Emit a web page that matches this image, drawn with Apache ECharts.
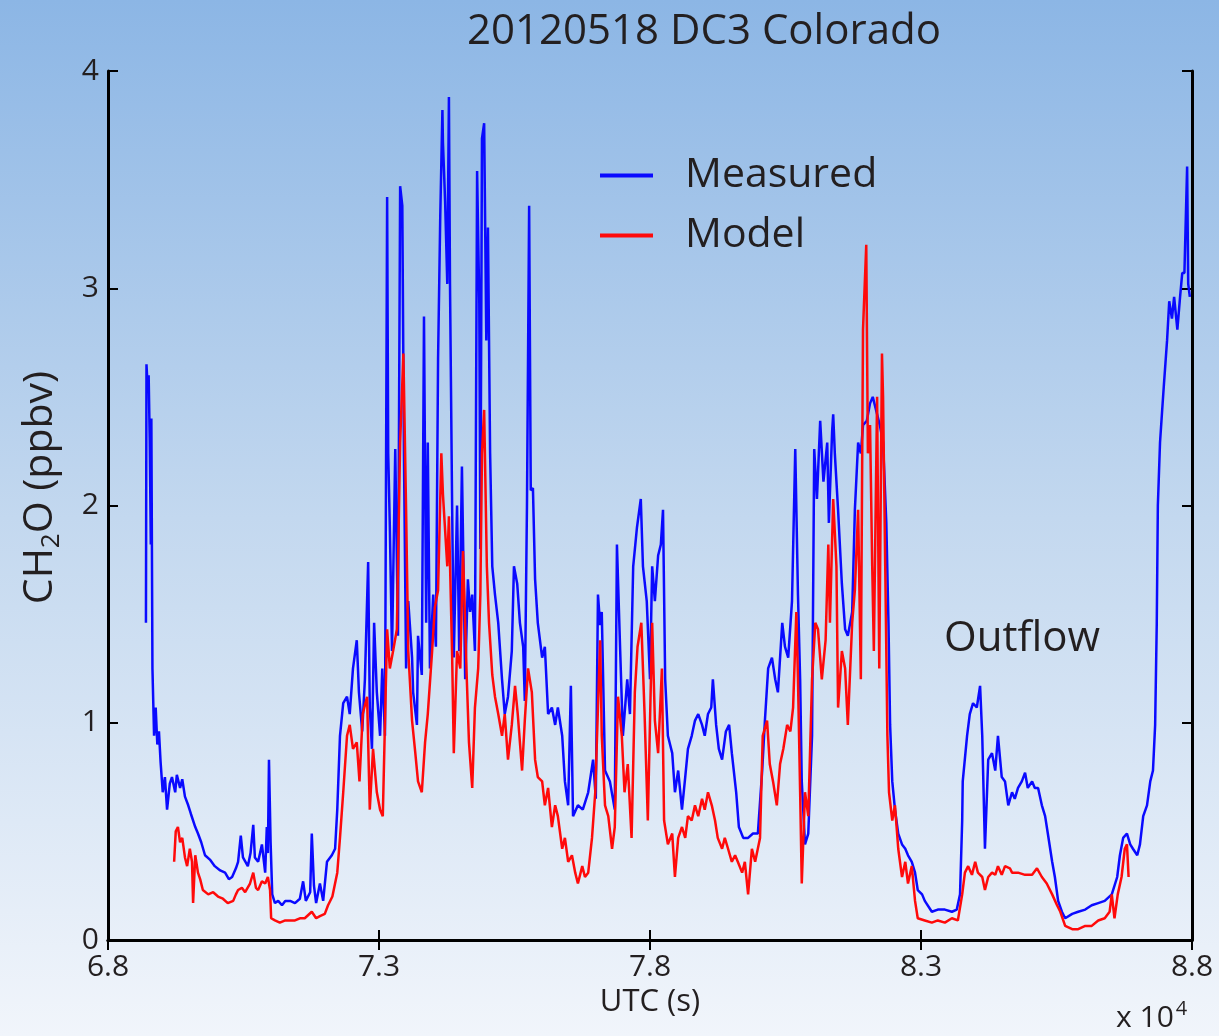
<!DOCTYPE html>
<html>
<head>
<meta charset="utf-8">
<script src="https://cdn.jsdelivr.net/npm/echarts@6/dist/echarts.min.js"></script>
<style>
  html, body { margin: 0; padding: 0; }
  #chart { width: 1219px; height: 1036px; }
</style>
</head>
<body>
<div id="chart"></div>
<script>
// UTC (s) vs CH2O (ppbv)
const xTicks = [68000, 73000, 78000, 83000, 88000]
const yTicks = [0, 1, 2, 3, 4]

const measured = [
  [68700, 1.46], [68710, 2.65], [68730, 2.55], [68750, 2.60], [68770, 2.30], [68790, 1.82], [68800, 2.40], [68820, 1.25], [68850, 0.94],
  [68880, 1.07], [68910, 0.90], [68940, 0.96], [68970, 0.82], [69010, 0.68], [69050, 0.75], [69090, 0.60], [69140, 0.72], [69180, 0.75],
  [69240, 0.68], [69270, 0.76], [69330, 0.70], [69370, 0.74], [69420, 0.66], [69480, 0.62], [69530, 0.58], [69610, 0.52], [69660, 0.49],
  [69720, 0.45], [69790, 0.39], [69880, 0.37], [69970, 0.34], [70070, 0.32], [70160, 0.31], [70230, 0.28], [70290, 0.29], [70360, 0.33],
  [70400, 0.36], [70450, 0.48], [70490, 0.38], [70580, 0.34], [70630, 0.40], [70680, 0.53], [70710, 0.38], [70770, 0.36], [70840, 0.44],
  [70900, 0.31], [70930, 0.52], [70950, 0.40], [70970, 0.83], [71000, 0.45], [71030, 0.21], [71080, 0.17], [71140, 0.18], [71210, 0.16],
  [71270, 0.18], [71360, 0.18], [71450, 0.17], [71540, 0.19], [71600, 0.27], [71650, 0.18], [71730, 0.22], [71760, 0.49], [71800, 0.25],
  [71840, 0.17], [71910, 0.26], [71970, 0.18], [72040, 0.36], [72130, 0.39], [72190, 0.42], [72230, 0.60], [72280, 0.94], [72340, 1.09],
  [72410, 1.12], [72460, 1.04], [72520, 1.25], [72590, 1.38], [72630, 1.14], [72690, 0.96], [72740, 1.20], [72800, 1.74], [72830, 1.07],
  [72870, 0.88], [72910, 1.46], [72960, 1.14], [73020, 0.94], [73060, 1.25], [73110, 0.94], [73150, 3.42], [73170, 2.24], [73200, 1.90],
  [73240, 1.33], [73300, 2.26], [73350, 1.40], [73390, 3.47], [73430, 3.38], [73460, 2.24], [73500, 1.25], [73540, 1.56], [73610, 1.30],
  [73630, 1.14], [73700, 0.99], [73720, 1.40], [73790, 1.22], [73830, 2.87], [73870, 1.46], [73900, 2.29], [73940, 1.25], [74000, 1.59],
  [74050, 1.35], [74090, 2.68], [74130, 3.33], [74170, 3.82], [74180, 3.67], [74220, 3.40], [74260, 3.02], [74270, 3.30], [74290, 3.88],
  [74310, 3.02], [74350, 1.98], [74380, 1.30], [74440, 2.00], [74480, 1.33], [74530, 2.18], [74590, 1.20], [74640, 1.66], [74680, 1.51],
  [74720, 1.59], [74770, 1.33], [74810, 3.54], [74850, 2.94], [74870, 1.80], [74900, 3.69], [74940, 3.76], [74980, 2.76], [75010, 3.28],
  [75050, 2.24], [75090, 1.72], [75140, 1.59], [75200, 1.46], [75270, 1.20], [75320, 1.04], [75380, 1.12], [75450, 1.33], [75490, 1.72],
  [75550, 1.64], [75600, 1.46], [75660, 1.35], [75690, 1.10], [75730, 2.00], [75770, 3.38], [75800, 2.07], [75840, 2.08], [75880, 1.66],
  [75930, 1.46], [76010, 1.30], [76060, 1.35], [76120, 1.04], [76190, 1.07], [76250, 0.99], [76300, 1.07], [76380, 0.94], [76430, 0.73],
  [76490, 0.62], [76540, 1.17], [76580, 0.57], [76670, 0.62], [76760, 0.60], [76860, 0.68], [76950, 0.83], [77000, 0.65], [77040, 1.59],
  [77080, 1.45], [77110, 1.51], [77170, 0.78], [77260, 0.73], [77350, 0.60], [77390, 1.82], [77450, 1.33], [77500, 0.94], [77580, 1.20],
  [77630, 1.04], [77690, 1.72], [77760, 1.90], [77830, 2.03], [77870, 1.72], [77940, 1.56], [78000, 1.20], [78040, 1.72], [78090, 1.56],
  [78150, 1.77], [78200, 1.82], [78240, 1.98], [78280, 1.20], [78330, 0.94], [78410, 0.86], [78460, 0.68], [78520, 0.78], [78590, 0.60],
  [78650, 0.75], [78700, 0.88], [78770, 0.94], [78830, 1.01], [78890, 1.04], [78960, 0.99], [79010, 0.94], [79070, 1.04], [79130, 1.07],
  [79160, 1.20], [79220, 0.99], [79270, 0.88], [79330, 0.83], [79400, 0.96], [79460, 0.99], [79510, 0.86], [79590, 0.68], [79640, 0.52],
  [79720, 0.47], [79810, 0.47], [79900, 0.49], [79990, 0.49], [80070, 0.78], [80120, 1.01], [80180, 1.25], [80250, 1.30], [80310, 1.20],
  [80360, 1.14], [80440, 1.46], [80490, 1.35], [80550, 1.30], [80620, 1.56], [80680, 2.26], [80730, 1.59], [80770, 1.20], [80800, 0.73],
  [80860, 0.44], [80920, 0.49], [80990, 0.94], [81030, 2.26], [81080, 2.03], [81140, 2.39], [81200, 2.11], [81270, 2.29], [81300, 1.92],
  [81360, 2.34], [81380, 2.42], [81410, 2.24], [81470, 1.98], [81540, 1.64], [81600, 1.43], [81650, 1.40], [81730, 1.51], [81780, 1.98],
  [81840, 2.29], [81890, 2.24], [81930, 2.37], [82000, 2.39], [82060, 2.47], [82110, 2.50], [82190, 2.42], [82240, 2.37], [82300, 2.29],
  [82360, 1.92], [82400, 1.46], [82430, 0.99], [82470, 0.73], [82520, 0.60], [82580, 0.49], [82650, 0.44], [82710, 0.42], [82760, 0.39],
  [82830, 0.36], [82890, 0.31], [82940, 0.23], [83020, 0.21], [83070, 0.18], [83200, 0.13], [83310, 0.14], [83440, 0.14], [83570, 0.13],
  [83660, 0.14], [83720, 0.21], [83760, 0.55], [83770, 0.73], [83850, 0.94], [83900, 1.04], [83960, 1.09], [84030, 1.07], [84090, 1.17],
  [84130, 0.94], [84180, 0.42], [84240, 0.83], [84310, 0.86], [84370, 0.78], [84420, 0.94], [84490, 0.75], [84550, 0.73], [84610, 0.62],
  [84680, 0.68], [84730, 0.65], [84790, 0.70], [84860, 0.73], [84920, 0.77], [84970, 0.70], [85050, 0.73], [85100, 0.70], [85160, 0.70],
  [85230, 0.62], [85290, 0.57], [85340, 0.49], [85420, 0.36], [85470, 0.29], [85530, 0.18], [85600, 0.13], [85660, 0.10], [85790, 0.12],
  [85900, 0.13], [86030, 0.14], [86150, 0.16], [86270, 0.17], [86390, 0.18], [86520, 0.21], [86620, 0.29], [86670, 0.39], [86730, 0.47],
  [86800, 0.49], [86860, 0.44], [86910, 0.42], [86990, 0.39], [87040, 0.44], [87100, 0.57], [87170, 0.62], [87230, 0.73], [87280, 0.78],
  [87320, 0.99], [87350, 1.46], [87370, 2.00], [87410, 2.29], [87450, 2.44], [87480, 2.55], [87540, 2.76], [87580, 2.94], [87630, 2.86],
  [87670, 2.96], [87730, 2.81], [87780, 2.96], [87820, 3.07], [87860, 3.07], [87910, 3.56], [87930, 3.02], [87960, 2.96]
]

const model = [
  [69220, 0.36], [69250, 0.50], [69290, 0.52], [69330, 0.45], [69370, 0.47], [69420, 0.38], [69460, 0.34], [69510, 0.42], [69550, 0.36],
  [69570, 0.17], [69610, 0.39], [69660, 0.31], [69700, 0.28], [69750, 0.23], [69850, 0.21], [69940, 0.22], [70030, 0.20], [70120, 0.19],
  [70210, 0.17], [70310, 0.18], [70360, 0.21], [70400, 0.23], [70470, 0.24], [70530, 0.22], [70620, 0.26], [70680, 0.31], [70730, 0.24],
  [70770, 0.23], [70840, 0.27], [70900, 0.26], [70950, 0.29], [70990, 0.23], [71010, 0.10], [71080, 0.09], [71170, 0.08], [71270, 0.09],
  [71360, 0.09], [71450, 0.09], [71540, 0.10], [71630, 0.10], [71760, 0.13], [71840, 0.10], [71910, 0.11], [72000, 0.12], [72060, 0.16],
  [72140, 0.20], [72230, 0.31], [72280, 0.47], [72340, 0.68], [72410, 0.94], [72460, 0.99], [72520, 0.88], [72590, 0.91], [72640, 0.73],
  [72700, 1.04], [72780, 1.12], [72830, 0.60], [72890, 0.88], [72960, 0.68], [73020, 0.60], [73070, 0.57], [73150, 1.43], [73200, 1.25],
  [73260, 1.33], [73330, 1.43], [73390, 2.29], [73450, 2.70], [73500, 1.98], [73540, 1.33], [73610, 1.01], [73670, 0.86], [73720, 0.73],
  [73790, 0.68], [73850, 0.91], [73900, 1.04], [73980, 1.33], [74030, 1.53], [74090, 1.61], [74150, 2.24], [74180, 2.05], [74260, 1.72],
  [74290, 1.95], [74350, 1.30], [74380, 0.86], [74440, 1.33], [74500, 1.25], [74550, 1.79], [74620, 1.20], [74660, 0.91], [74720, 0.70],
  [74770, 1.07], [74830, 1.25], [74870, 1.59], [74900, 2.24], [74940, 2.44], [74990, 1.72], [75030, 1.46], [75090, 1.22], [75140, 1.12],
  [75200, 1.04], [75270, 0.94], [75320, 1.04], [75380, 0.83], [75450, 0.99], [75510, 1.17], [75560, 1.04], [75640, 0.78], [75690, 1.01],
  [75750, 1.25], [75820, 1.14], [75880, 0.83], [75930, 0.75], [76010, 0.73], [76060, 0.62], [76120, 0.70], [76190, 0.52], [76250, 0.62],
  [76300, 0.57], [76380, 0.42], [76430, 0.47], [76490, 0.36], [76560, 0.39], [76620, 0.31], [76670, 0.26], [76750, 0.34], [76800, 0.29],
  [76860, 0.31], [76930, 0.47], [76990, 0.68], [77040, 1.07], [77080, 1.38], [77110, 0.94], [77170, 0.62], [77230, 0.57], [77300, 0.42],
  [77350, 0.52], [77410, 1.12], [77480, 0.94], [77530, 0.68], [77590, 0.81], [77660, 0.47], [77720, 1.14], [77770, 1.35], [77840, 1.46],
  [77900, 1.04], [77960, 0.55], [78040, 1.46], [78090, 1.01], [78150, 0.86], [78220, 1.25], [78260, 0.55], [78330, 0.44], [78410, 0.49],
  [78460, 0.29], [78520, 0.47], [78590, 0.52], [78650, 0.47], [78700, 0.57], [78770, 0.55], [78830, 0.62], [78890, 0.57], [78960, 0.65],
  [79010, 0.60], [79070, 0.68], [79140, 0.62], [79200, 0.55], [79250, 0.47], [79330, 0.42], [79380, 0.47], [79440, 0.42], [79510, 0.36],
  [79570, 0.39], [79620, 0.36], [79700, 0.31], [79750, 0.36], [79810, 0.21], [79880, 0.42], [79940, 0.36], [80030, 0.47], [80080, 0.94],
  [80160, 1.01], [80210, 0.81], [80270, 0.73], [80340, 0.62], [80400, 0.81], [80460, 0.88], [80530, 0.99], [80590, 0.96], [80640, 1.07],
  [80700, 1.51], [80730, 1.20], [80770, 0.68], [80800, 0.26], [80860, 0.68], [80920, 0.57], [80990, 1.20], [81050, 1.46], [81100, 1.43],
  [81170, 1.20], [81240, 1.38], [81290, 1.82], [81320, 1.46], [81380, 2.03], [81440, 1.72], [81470, 1.07], [81540, 1.33], [81600, 1.25],
  [81650, 0.99], [81730, 1.46], [81780, 1.61], [81840, 1.98], [81890, 1.20], [81930, 2.81], [81990, 3.20], [82020, 2.24], [82060, 2.37],
  [82100, 1.72], [82130, 1.33], [82190, 2.50], [82230, 1.25], [82280, 2.70], [82300, 2.50], [82340, 1.72], [82380, 0.94], [82410, 0.68],
  [82470, 0.55], [82520, 0.62], [82580, 0.42], [82650, 0.29], [82710, 0.36], [82760, 0.26], [82830, 0.34], [82890, 0.18], [82940, 0.10],
  [83070, 0.09], [83200, 0.08], [83310, 0.09], [83440, 0.08], [83570, 0.10], [83680, 0.09], [83760, 0.21], [83810, 0.31], [83870, 0.34],
  [83940, 0.30], [84000, 0.36], [84050, 0.31], [84130, 0.29], [84180, 0.23], [84240, 0.29], [84310, 0.31], [84370, 0.30], [84420, 0.34],
  [84490, 0.30], [84550, 0.34], [84640, 0.33], [84680, 0.31], [84790, 0.31], [84920, 0.30], [85050, 0.30], [85140, 0.33], [85230, 0.29],
  [85320, 0.26], [85420, 0.21], [85510, 0.16], [85570, 0.13], [85660, 0.065], [85790, 0.05], [85900, 0.05], [86030, 0.065], [86150, 0.065],
  [86270, 0.09], [86390, 0.10], [86480, 0.13], [86520, 0.21], [86570, 0.10], [86630, 0.21], [86700, 0.29], [86760, 0.42], [86800, 0.44],
  [86830, 0.29]
]

const font = "'Open Sans', sans-serif"
const ink = '#231f20'

const chart = echarts.init(document.getElementById('chart'))

const frameAxis = {
  axisLine: { show: true, lineStyle: { color: '#000', width: 3 } },
  axisTick: { show: true, inside: true, length: 10, lineStyle: { color: '#000', width: 2 } },
  splitLine: { show: false }
}

chart.setOption({
  animation: false,
  backgroundColor: {
    type: 'linear', x: 0, y: 0, x2: 0, y2: 1,
    colorStops: [
      { offset: 0, color: '#8cb6e5' },
      { offset: 0.5, color: '#c3d8ef' },
      { offset: 1, color: '#f1f5fb' }
    ]
  },
  title: {
    text: '20120518 DC3 Colorado',
    left: 462,
    top: 6,
    textStyle: { fontFamily: font, fontSize: 42, fontWeight: 'normal', color: ink }
  },
  legend: {
    data: ['Measured', 'Model'],
    orient: 'vertical',
    left: 595,
    top: 150,
    icon: 'rect',
    itemWidth: 53,
    itemHeight: 4,
    itemGap: 19,
    textStyle: { fontFamily: font, fontSize: 41, color: ink, padding: [0, 0, 0, 27] }
  },
  grid: { left: 108, right: 27, top: 71, bottom: 96 },
  xAxis: [{
    type: 'value',
    min: xTicks[0],
    max: xTicks[xTicks.length - 1],
    interval: xTicks[1] - xTicks[0],
    name: 'UTC (s)',
    nameLocation: 'middle',
    nameGap: 44,
    nameTextStyle: { fontFamily: font, fontSize: 31, color: ink },
    axisLabel: {
      fontFamily: font, fontSize: 30, color: ink, margin: 12,
      formatter: v => (v / 1e4).toFixed(1)
    },
    ...frameAxis
  }, {
    type: 'value',
    position: 'top',
    min: xTicks[0],
    max: xTicks[xTicks.length - 1],
    interval: xTicks[1] - xTicks[0],
    axisLabel: { show: false },
    ...frameAxis
  }],
  yAxis: [{
    type: 'value',
    min: yTicks[0],
    max: yTicks[yTicks.length - 1],
    interval: 1,
    name: 'CH{s|2}O (ppbv)',
    nameLocation: 'middle',
    nameRotate: 90,
    nameGap: 43,
    nameTextStyle: {
      fontFamily: font, fontSize: 41, color: ink,
      padding: [0, 0, 0, 36],
      rich: { s: { fontFamily: font, fontSize: 26, color: ink, padding: [24, 0, 0, 0] } }
    },
    axisLabel: { fontFamily: font, fontSize: 30, color: ink, margin: 9 },
    ...frameAxis
  }, {
    type: 'value',
    position: 'right',
    min: yTicks[0],
    max: yTicks[yTicks.length - 1],
    interval: 1,
    axisLabel: { show: false },
    ...frameAxis
  }],
  graphic: [{
    type: 'text',
    left: 944,
    top: 618,
    style: { text: 'Outflow', font: '42px ' + font, fill: ink }
  }, {
    type: 'text',
    left: 1116,
    top: 999,
    style: {
      text: 'x 10{p|4}',
      font: '30px ' + font,
      fill: ink,
      rich: { p: { fontSize: 20, fontFamily: font, fill: ink, padding: [0, 0, 18, 2] } }
    }
  }],
  series: [{
    name: 'Measured',
    type: 'line',
    symbol: 'none',
    color: '#0a0aff',
    lineStyle: { width: 2.5, color: '#0a0aff' },
    data: measured
  }, {
    name: 'Model',
    type: 'line',
    symbol: 'none',
    color: '#ff0a0a',
    lineStyle: { width: 2.5, color: '#ff0a0a' },
    data: model
  }]
})
</script>
</body>
</html>
